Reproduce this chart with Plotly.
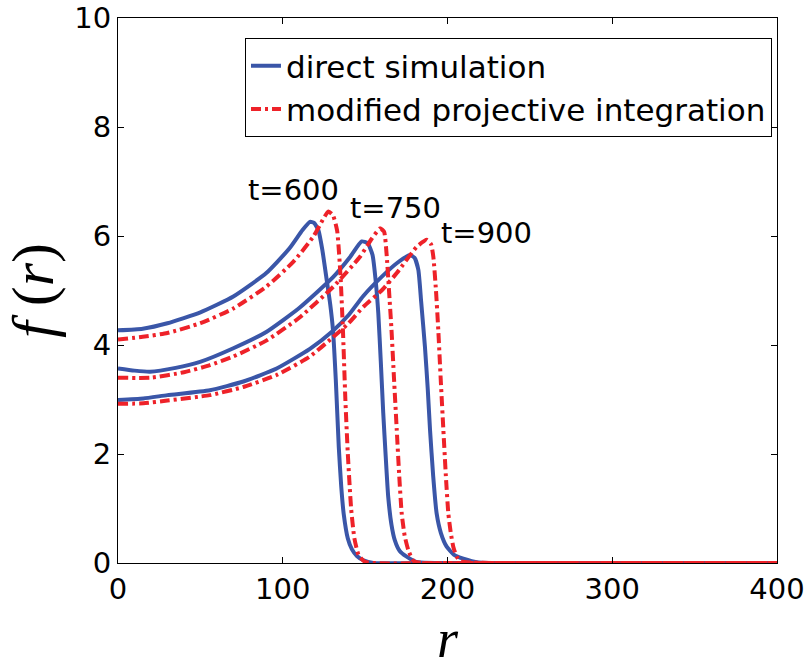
import plotly.graph_objects as go

# ---- data ----
r_blue_600 = [0, 15, 30, 50, 70, 90, 104, 112, 116.5, 119, 121.6, 124, 126.7, 128.8, 130.5, 132.2, 134, 135.5, 137, 139.5, 142, 145, 149, 155, 200, 300, 400]
f_blue_600 = [4.27, 4.30, 4.40, 4.60, 4.89, 5.32, 5.77, 6.11, 6.26, 6.24, 6.11, 5.75, 5.19, 4.75, 4.27, 3.36, 2.13, 1.40, 0.90, 0.45, 0.25, 0.13, 0.05, 0.0, 0.0, 0.0, 0.0]

r_red_600 = [0, 15, 30, 50, 70, 90, 106.5, 118.6, 124.7, 127.7, 130.5, 133, 135, 136.5, 138, 139.5, 141.5, 143.5, 146, 150, 200, 300, 400]
f_red_600 = [4.10, 4.15, 4.22, 4.40, 4.67, 5.07, 5.53, 5.99, 6.32, 6.45, 6.38, 6.10, 5.30, 4.30, 3.00, 2.00, 1.00, 0.45, 0.15, 0.02, 0.0, 0.0, 0.0]

r_blue_750 = [0, 10, 19.4, 35, 49.8, 70, 90, 110, 130.7, 141, 147.9, 151.5, 154.5, 156.5, 158, 159.5, 161, 162.5, 164, 166, 168, 171, 175, 181, 220, 300, 400]
f_blue_750 = [3.57, 3.53, 3.51, 3.58, 3.69, 3.94, 4.24, 4.68, 5.25, 5.62, 5.90, 5.87, 5.65, 5.15, 4.58, 3.70, 2.75, 1.95, 1.22, 0.70, 0.42, 0.22, 0.12, 0.02, 0.0, 0.0, 0.0]

r_red_750 = [0, 20, 40, 55.8, 70, 90, 110, 130.7, 146.9, 154, 159, 161.5, 163, 164.5, 166, 167.5, 169.2, 170.7, 172.2, 174, 176.2, 179.7, 220, 300, 400]
f_red_750 = [3.40, 3.40, 3.50, 3.63, 3.79, 4.08, 4.50, 5.07, 5.62, 5.95, 6.14, 6.08, 5.68, 5.00, 4.28, 3.40, 2.44, 1.60, 0.91, 0.50, 0.24, 0.03, 0.0, 0.0, 0.0]

r_blue_900 = [0, 15.4, 30, 55.8, 76.1, 96.3, 116.5, 130, 140, 148.9, 160, 169.2, 177.2, 180, 182.3, 184, 186.3, 188, 189.4, 191.3, 193.4, 196, 199.5, 204, 209.6, 219, 260, 330, 400]
f_blue_900 = [2.99, 3.02, 3.08, 3.17, 3.33, 3.57, 3.93, 4.25, 4.55, 4.90, 5.25, 5.50, 5.65, 5.60, 5.38, 4.80, 3.97, 3.20, 2.44, 1.60, 0.91, 0.55, 0.30, 0.15, 0.08, 0.01, 0.0, 0.0, 0.0]

r_red_900 = [0, 15.4, 30, 55.8, 76.1, 96.3, 116.5, 130, 140, 148.9, 160, 169.2, 181.3, 187.4, 190, 191.4, 193, 194.4, 196, 197.5, 199, 200.5, 202, 203.5, 205.5, 208, 250, 330, 400]
f_red_900 = [2.92, 2.93, 2.98, 3.08, 3.23, 3.45, 3.79, 4.13, 4.40, 4.70, 5.00, 5.32, 5.80, 5.93, 5.85, 5.62, 5.00, 4.28, 3.30, 2.44, 1.60, 0.91, 0.55, 0.30, 0.12, 0.03, 0.0, 0.0, 0.0]

time_labels = ["t=600", "t=750", "t=900"]
label_r = [106.4, 168.2, 223.8]
label_f = [6.84, 6.51, 6.05]

x_ticks = [0, 100, 200, 300, 400]
y_ticks = [0, 2, 4, 6, 8, 10]

BLUE = "#3a56a8"
RED = "#ee2229"
FONT = "DejaVu Sans"

fig = go.Figure()

blue_sets = [(r_blue_600, f_blue_600), (r_blue_750, f_blue_750), (r_blue_900, f_blue_900)]
red_sets = [(r_red_600, f_red_600), (r_red_750, f_red_750), (r_red_900, f_red_900)]

for i, (rr, ff) in enumerate(blue_sets):
    fig.add_trace(go.Scatter(
        x=rr, y=ff, mode="lines", name="direct simulation",
        legendgroup="direct", showlegend=(i == 0),
        line=dict(color=BLUE, width=4, shape="spline", smoothing=0.5),
    ))
for i, (rr, ff) in enumerate(red_sets):
    fig.add_trace(go.Scatter(
        x=rr, y=ff, mode="lines", name="modified projective integration",
        legendgroup="mpi", showlegend=(i == 0),
        line=dict(color=RED, width=4, dash="10px,4px,3px,4px", shape="spline", smoothing=0.5),
    ))

for txt, xr, yf in zip(time_labels, label_r, label_f):
    fig.add_annotation(x=xr, y=yf, text=txt, showarrow=False,
                       font=dict(family=FONT, size=29, color="black"))

fig.update_layout(
    width=811, height=669,
    margin=dict(l=118, r=34, t=18, b=106),
    paper_bgcolor="white", plot_bgcolor="white",
    showlegend=True,
    legend=dict(
        x=0.9924, y=0.963, xanchor="right", yanchor="top",
        bordercolor="black", borderwidth=1, bgcolor="white",
        font=dict(family=FONT, size=31, color="black"),
        itemwidth=30, tracegroupgap=0,
    ),
    xaxis=dict(
        range=[0, 400], tickvals=x_ticks, ticktext=[str(v) for v in x_ticks],
        showline=True, linecolor="black", linewidth=1, mirror="ticks",
        ticks="inside", ticklen=6, tickcolor="black",
        showgrid=False, zeroline=False, automargin=False,
        tickfont=dict(family=FONT, size=29, color="black"),
        title=dict(text="<i>r</i>", font=dict(family="Liberation Serif", size=54, color="black"), standoff=18),
    ),
    yaxis=dict(
        range=[0, 10], tickvals=y_ticks, ticktext=[str(v) for v in y_ticks],
        showline=True, linecolor="black", linewidth=1, mirror="ticks",
        ticks="inside", ticklen=6, tickcolor="black",
        showgrid=False, zeroline=False, automargin=False,
        tickfont=dict(family=FONT, size=29, color="black"),
        title=dict(text="<i>f</i> (<i>r</i>)", font=dict(family="Liberation Serif", size=60, color="black"), standoff=8),
    ),
)

fig.write_html("out.html")
